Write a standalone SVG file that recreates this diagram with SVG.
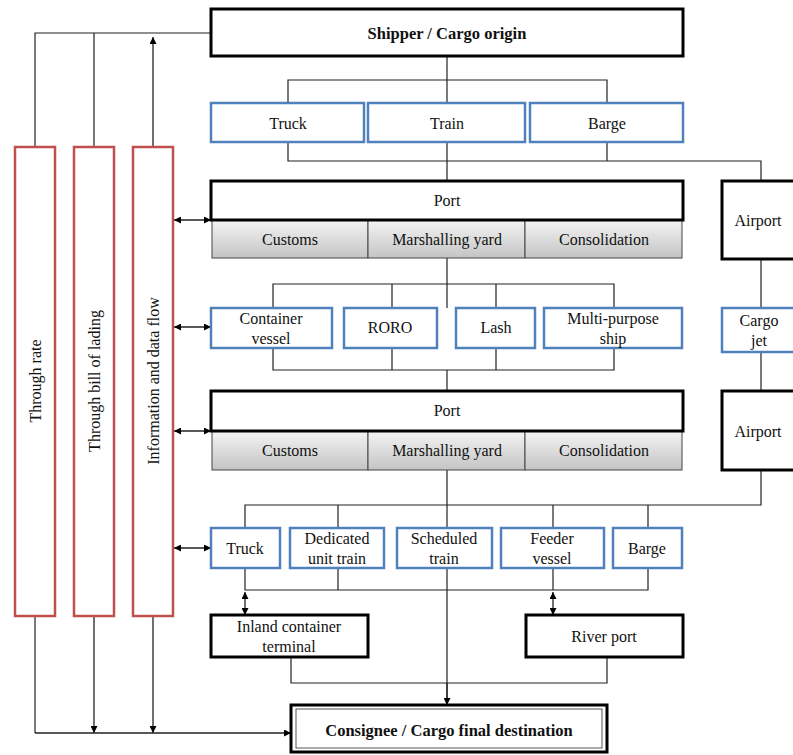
<svg xmlns="http://www.w3.org/2000/svg" width="793" height="755" viewBox="0 0 793 755" font-family="'Liberation Serif', 'DejaVu Serif', serif">
<defs>
<marker id="ah" viewBox="0 0 10 10" refX="10" refY="5" markerWidth="7" markerHeight="7" orient="auto-start-reverse" markerUnits="userSpaceOnUse">
<path d="M0,0 L10,5 L0,10 z" fill="#000"/>
</marker>
<linearGradient id="grey" x1="0" y1="0" x2="0" y2="1">
<stop offset="0" stop-color="#f4f4f4"/>
<stop offset="1" stop-color="#c4c4c4"/>
</linearGradient>
<style>
text{font-family:'Liberation Serif','DejaVu Serif',serif;font-size:16px;fill:#111;text-anchor:middle;dominant-baseline:central}
.b{font-weight:bold;font-size:16.5px}
.blk{fill:#fff;stroke:#000;stroke-width:3}
.blue{fill:#fff;stroke:#4f81bd;stroke-width:2.5}
.red{fill:#fff;stroke:#c0504d;stroke-width:2.5}
.gr{fill:url(#grey);stroke:#444;stroke-width:1}
.ln{fill:none;stroke:#222;stroke-width:1.2}
.ar{fill:none;stroke:#222;stroke-width:1.3}
</style>
</defs>
<rect width="793" height="755" fill="#fff"/>

<g id="connectors">
<path class="ln" d="M211,33 H35 V147 M94,33 V147"/>
<path class="ar" d="M153,147 V37" marker-end="url(#ah)"/>
<path class="ln" d="M447,56 V103 M288,103 V80 H607 V103"/>
<path class="ln" d="M288,142 V161 H761 V181 M447,142 V181 M607,142 V161"/>
<path class="ln" d="M447,258 V308 M273,308 V284 H614 V308 M392,284 V308 M496,284 V308"/>
<path class="ln" d="M273,348 V370 H614 V348 M392,348 V370 M496,348 V370 M447,370 V391"/>
<path class="ln" d="M761,259 V308 M761,352 V391"/>
<path class="ln" d="M447,470 V528 M761,470 V505 H245 V528 M338,505 V528 M553,505 V528 M648,505 V528"/>
<path class="ln" d="M245,568 V590 H648 V568 M338,568 V590 M553,568 V590 M447,568 V700"/>
<path class="ar" d="M245,592 V615" marker-start="url(#ah)" marker-end="url(#ah)"/>
<path class="ar" d="M553,592 V615" marker-start="url(#ah)" marker-end="url(#ah)"/>
<path class="ln" d="M291,657 V683 H607 V657"/>
<path class="ar" d="M447,683 V705" marker-end="url(#ah)"/>
<path class="ln" d="M35,616 V733"/>
<path class="ar" d="M94,616 V733" marker-end="url(#ah)"/>
<path class="ar" d="M153,616 V733" marker-end="url(#ah)"/>
<path class="ar" d="M35,733 H291" marker-end="url(#ah)"/>
<path class="ar" d="M174,220 H211" marker-start="url(#ah)" marker-end="url(#ah)"/>
<path class="ar" d="M174,327 H211" marker-start="url(#ah)" marker-end="url(#ah)"/>
<path class="ar" d="M174,431 H211" marker-start="url(#ah)" marker-end="url(#ah)"/>
<path class="ar" d="M174,548 H211" marker-start="url(#ah)" marker-end="url(#ah)"/>
</g>

<g id="through-rate"><rect class="red" x="15" y="147" width="40" height="469"/><text transform="translate(35,381) rotate(-90)">Through rate</text></g>
<g id="through-bill"><rect class="red" x="74" y="147" width="40" height="469"/><text transform="translate(94,381) rotate(-90)">Through bill  of lading</text></g>
<g id="info-flow"><rect class="red" x="133" y="147" width="40" height="469"/><text transform="translate(153,381) rotate(-90)">Information and data flow</text></g>

<g id="shipper"><rect class="blk" x="211" y="9" width="472" height="47"/><text class="b" x="447" y="33">Shipper / Cargo origin</text></g>

<g id="truck1"><rect class="blue" x="211" y="103" width="153" height="39"/><text x="288" y="123">Truck</text></g>
<g id="train1"><rect class="blue" x="368" y="103" width="157" height="39"/><text x="447" y="123">Train</text></g>
<g id="barge1"><rect class="blue" x="530" y="103" width="153" height="39"/><text x="607" y="123">Barge</text></g>

<g id="port1">
<rect class="gr" x="212" y="220" width="156" height="38"/>
<rect class="gr" x="368" y="220" width="157" height="38"/>
<rect class="gr" x="525" y="220" width="157" height="38"/>
<rect class="blk" x="211" y="181" width="472" height="39"/>
<text x="447" y="200">Port</text>
<text x="290" y="239">Customs</text>
<text x="447" y="239">Marshalling yard</text>
<text x="604" y="239">Consolidation</text>
</g>
<g id="airport1"><rect class="blk" x="722" y="181" width="90" height="78"/><text x="758" y="220">Airport</text></g>

<g id="container-vessel"><rect class="blue" x="211" y="308" width="121" height="40"/><text x="271" y="318">Container</text><text x="271" y="338">vessel</text></g>
<g id="roro"><rect class="blue" x="344" y="308" width="93" height="40"/><text x="390" y="327">RORO</text></g>
<g id="lash"><rect class="blue" x="456" y="308" width="79" height="40"/><text x="496" y="327">Lash</text></g>
<g id="multi-purpose"><rect class="blue" x="544" y="308" width="138" height="40"/><text x="613" y="318">Multi-purpose</text><text x="613" y="338">ship</text></g>
<g id="cargo-jet"><rect class="blue" x="722" y="308" width="90" height="44"/><text x="759" y="320">Cargo</text><text x="759" y="340">jet</text></g>

<g id="port2">
<rect class="gr" x="212" y="431" width="156" height="39"/>
<rect class="gr" x="368" y="431" width="157" height="39"/>
<rect class="gr" x="525" y="431" width="157" height="39"/>
<rect class="blk" x="211" y="391" width="472" height="40"/>
<text x="447" y="410">Port</text>
<text x="290" y="450">Customs</text>
<text x="447" y="450">Marshalling yard</text>
<text x="604" y="450">Consolidation</text>
</g>
<g id="airport2"><rect class="blk" x="722" y="391" width="90" height="79"/><text x="758" y="431">Airport</text></g>

<g id="truck2"><rect class="blue" x="211" y="528" width="69" height="40"/><text x="245" y="548">Truck</text></g>
<g id="dedicated-train"><rect class="blue" x="290" y="528" width="94" height="40"/><text x="337" y="538">Dedicated</text><text x="337" y="558">unit train</text></g>
<g id="scheduled-train"><rect class="blue" x="397" y="528" width="95" height="40"/><text x="444" y="538">Scheduled</text><text x="444" y="558">train</text></g>
<g id="feeder-vessel"><rect class="blue" x="501" y="528" width="103" height="40"/><text x="552" y="538">Feeder</text><text x="552" y="558">vessel</text></g>
<g id="barge2"><rect class="blue" x="613" y="528" width="69" height="40"/><text x="647" y="548">Barge</text></g>

<g id="inland-terminal"><rect class="blk" x="211" y="615" width="157" height="42"/><text x="289" y="626">Inland container</text><text x="289" y="646">terminal</text></g>
<g id="river-port"><rect class="blk" x="526" y="615" width="157" height="42"/><text x="604" y="636">River port</text></g>

<g id="consignee"><rect class="blk" x="291" y="705" width="316" height="47"/><rect x="296" y="709" width="306" height="39" fill="none" stroke="#555" stroke-width="1"/><text class="b" x="449" y="730">Consignee / Cargo final destination</text></g>
</svg>
